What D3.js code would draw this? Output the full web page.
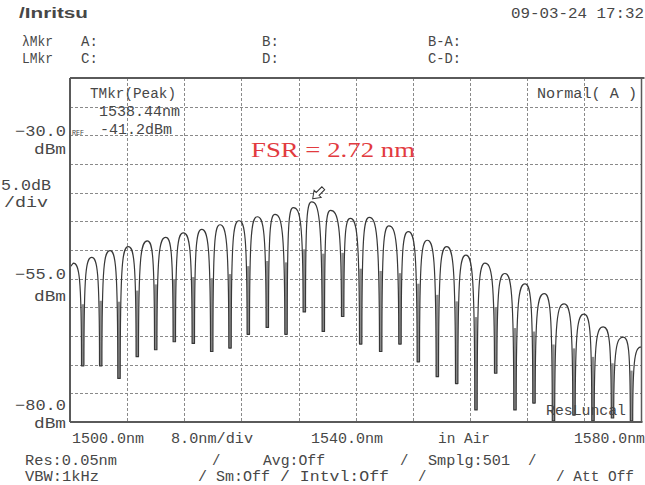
<!DOCTYPE html>
<meta charset="utf-8">
<style>
body { margin: 0; background: #fff; }
#chart text { font-family: "Liberation Mono", "DejaVu Sans Mono", monospace; fill: #474747; }
</style>
<body>
<div id="chart"></div>
<script src="https://cdn.jsdelivr.net/npm/d3@7"></script>
<script>

var width = 645, height = 485;
var plot = {left: 70, right: 641.5, top: 78, bottom: 422};

// span 1500-1580 nm, 8 nm/div ; level -80..-20 dBm, 5 dB/div
var wlDomain = [1500, 1580];
var dbmDomain = [-80, -20];
var wlTicks = d3.range(1500, 1581, 8);
var dbmTicks = d3.range(-80, -19, 5);

// fringe peaks (nm / dBm)
var peakWl = [1500.46, 1503.04, 1505.60, 1508.16, 1510.82, 1513.40, 1515.86, 1518.44,
              1521.00, 1523.66, 1526.22, 1528.70, 1531.26, 1533.83, 1536.47, 1539.24,
              1541.90, 1544.65, 1547.36, 1550.02, 1552.73, 1555.43, 1558.09, 1560.89,
              1563.69, 1566.39, 1569.15, 1571.95, 1574.65, 1577.45];
var peakDbm = [-52.3, -51.3, -50.1, -49.4, -48.4, -47.8, -47.0, -46.4,
               -45.6, -44.9, -44.2, -43.8, -42.6, -41.6, -43.1, -44.5,
               -44.3, -45.8, -46.8, -48.3, -49.4, -50.9, -52.3, -54.1,
               -55.9, -57.6, -59.4, -61.2, -63.4, -65.2];

// fringe minima, one after each peak
var dipWl = [1501.78, 1504.30, 1506.86, 1509.42, 1512.00, 1514.60, 1517.26, 1519.84,
             1522.40, 1524.96, 1527.62, 1530.24, 1532.80, 1535.46, 1538.17, 1540.69,
             1543.49, 1546.19, 1548.76, 1551.42, 1554.13, 1556.83, 1559.59, 1562.29,
             1564.95, 1567.68, 1570.55, 1573.21, 1575.94, 1578.60];
var dipDbm = [-70.2, -70.2, -72.4, -68.6, -67.4, -66.0, -66.3, -67.7,
              -67.1, -64.7, -63.5, -64.7, -60.8, -64.2, -61.6, -66.4,
              -67.7, -66.4, -69.5, -72.1, -73.3, -77.9, -71.5, -77.9,
              -76.7, -79.8, -78.8, -79.8, -79.3, -79.8];

// where the trace enters and leaves the screen
var traceStart = [1500.0, -53.0];
var traceEnd = [1580.0, -66.9];

var markerIndex = 13;   // TMkr(Peak)

var x = d3.scaleLinear().domain(wlDomain).range([plot.left, plot.right]);
var y = d3.scaleLinear().domain(dbmDomain).range([plot.bottom, plot.top]);

var svg = d3.select('#chart').append('svg')
    .attr('width', width)
    .attr('height', height);

svg.append('rect').attr('width', width).attr('height', height).attr('fill', '#fff');

svg.append('clipPath').attr('id', 'plotclip')
  .append('rect')
    .attr('x', plot.left).attr('y', plot.top)
    .attr('width', plot.right - plot.left).attr('height', plot.bottom - plot.top);

// grid
var grid = svg.append('g').attr('stroke', '#8a8a8a').attr('stroke-width', 1)
    .attr('stroke-dasharray', '3,2');

grid.selectAll('.vx').data(wlTicks.slice(1, -1)).enter().append('line')
    .attr('x1', function(d){ return Math.round(x(d)) + 0.5; })
    .attr('x2', function(d){ return Math.round(x(d)) + 0.5; })
    .attr('y1', plot.top).attr('y2', plot.bottom);

grid.selectAll('.hy').data(dbmTicks.slice(1, -1)).enter().append('line')
    .attr('y1', function(d){ return Math.round(y(d)) + 0.5; })
    .attr('y2', function(d){ return Math.round(y(d)) + 0.5; })
    .attr('x1', plot.left).attr('x2', plot.right);

// trace: arch from each peak down to the narrow dip and up again
function tracePath() {
  var p = d3.path();
  p.moveTo(x(traceStart[0]), y(traceStart[1]));
  p.lineTo(x(peakWl[0]), y(peakDbm[0]));
  for (var i = 0; i < peakWl.length; i++) {
    var xp = x(peakWl[i]), yp = y(peakDbm[i]);
    var xd = x(dipWl[i]), yd = y(dipDbm[i]);
    var h = xd - xp;
    p.bezierCurveTo(xp + 0.6 * h, yp, xd - 1.2, yp + 0.1 * (yd - yp), xd - 1.2, yd);
    p.lineTo(xd + 1.2, yd);
    var nx, ny;
    if (i + 1 < peakWl.length) { nx = x(peakWl[i + 1]); ny = y(peakDbm[i + 1]); }
    else { nx = x(traceEnd[0]); ny = y(traceEnd[1]); }
    var h2 = nx - xd;
    p.bezierCurveTo(xd + 1.2, ny + 0.1 * (yd - ny), nx - 0.6 * h2, ny, nx, ny);
  }
  return p.toString();
}

var traceG = svg.append('g').attr('clip-path', 'url(#plotclip)');

// grey body of the narrow dips
traceG.selectAll('.dipbar').data(d3.range(dipWl.length)).enter().append('rect')
    .attr('x', function(i){ return x(dipWl[i]) - 1.2; })
    .attr('width', 2.4)
    .attr('y', function(i){ return y(peakDbm[i]) + 0.4 * (y(dipDbm[i]) - y(peakDbm[i])); })
    .attr('height', function(i){ return 0.6 * (y(dipDbm[i]) - y(peakDbm[i])); })
    .attr('fill', '#8d8d8d');

traceG.append('path')
    .attr('d', tracePath())
    .attr('fill', 'none')
    .attr('stroke', '#383838')
    .attr('stroke-width', 1.2)
    .attr('stroke-linejoin', 'round');

// frame
var frame = svg.append('g').attr('stroke', '#5a5a5a').attr('fill', 'none');
frame.append('line').attr('x1', plot.left).attr('x2', plot.right + 3)
    .attr('y1', plot.top).attr('y2', plot.top).attr('stroke-width', 2);
frame.append('line').attr('x1', plot.left).attr('x2', plot.right + 1)
    .attr('y1', plot.bottom).attr('y2', plot.bottom).attr('stroke-width', 2);
frame.append('line').attr('x1', plot.left).attr('x2', plot.left)
    .attr('y1', plot.top).attr('y2', plot.bottom).attr('stroke-width', 2);
frame.append('line').attr('x1', plot.right).attr('x2', plot.right)
    .attr('y1', plot.top).attr('y2', plot.bottom).attr('stroke-width', 1.5);

// peak marker arrow
var mx = x(peakWl[markerIndex]), my = y(peakDbm[markerIndex]);
svg.append('path')
    .attr('d', 'M0,0 L-7,-5 L-7,-2 L-15,-2 L-15,2 L-7,2 L-7,5 Z')
    .attr('transform', 'translate(' + (mx + 1) + ',' + (my - 3) + ') rotate(135)')
    .attr('fill', '#fff')
    .attr('stroke', '#333')
    .attr('stroke-width', 1);

// texts
function txt(x0, y0, s, o) {
  o = o || {};
  var t = svg.append('text')
      .attr('x', x0).attr('y', y0)
      .style('font-size', (o.size || 14) + 'px')
      .text(s);
  if (o.anchor) t.attr('text-anchor', o.anchor);
  if (o.w) t.attr('textLength', o.w).attr('lengthAdjust', 'spacingAndGlyphs');
  if (o.fill) t.style('fill', o.fill);
  if (o.family) t.style('font-family', o.family);
  if (o.weight) t.style('font-weight', o.weight);
  return t;
}

// header
txt(19, 18, '/Inritsu', {size: 14, w: 69, weight: 'bold', family: 'Liberation Sans Narrow, Liberation Sans, sans-serif'});
txt(511, 18, '09-03-24 17:32', {size: 14, w: 133});
txt(22, 46, '\u03bbMkr', {size: 14, w: 31});
txt(81, 46, 'A:', {size: 14});
txt(262, 46, 'B:', {size: 14});
txt(428, 46, 'B-A:', {size: 14, w: 33});
txt(22, 63, 'LMkr', {size: 14, w: 31});
txt(81, 63, 'C:', {size: 14});
txt(262, 63, 'D:', {size: 14});
txt(428, 63, 'C-D:', {size: 14, w: 33});

// level labels
var lv = [[-30, 136, 154], [-55, 279, 301], [-80, 410, 428]];
lv.forEach(function(d){
  txt(66, d[1], d3.format('.1f')(d[0]), {size: 15, anchor: 'end', w: 51});
  txt(66, d[2], 'dBm', {size: 14, anchor: 'end', w: 32});
});
txt(1, 190, '5.0dB', {size: 15, w: 50});
txt(4, 207, '/div', {size: 14, w: 44});

// marker readout
txt(90, 98, 'TMkr(Peak)', {size: 14, w: 86});
txt(99, 116, '1538.44nm', {size: 14, w: 81});
txt(72, 135, 'REF', {size: 7, w: 12});
txt(100, 134, '-41.2dBm', {size: 14, w: 72});
txt(537, 98, 'Normal( A )', {size: 14, w: 100});
txt(546, 415, 'ResLuncal', {size: 14, w: 80});

txt(251, 157, 'FSR = 2.72 nm', {size: 21, w: 164, fill: '#e23b3f', family: 'Liberation Serif, serif'});

// wavelength labels
txt(72, 443, '1500.0nm', {size: 15, w: 72});
txt(171, 443, '8.0nm/div', {size: 15, w: 82});
txt(311, 443, '1540.0nm', {size: 15, w: 72});
txt(438, 443, 'in Air', {size: 15, w: 52});
txt(574, 443, '1580.0nm', {size: 15, w: 71});

// settings
txt(25, 465, 'Res:0.05nm', {size: 14, w: 92});
txt(212, 465, '/', {size: 14});
txt(263, 465, 'Avg:Off', {size: 14, w: 62});
txt(400, 465, '/', {size: 14});
txt(428, 465, 'Smplg:501', {size: 14, w: 82});
txt(528, 465, '/', {size: 14});
txt(25, 481, 'VBW:1kHz', {size: 14, w: 74});
txt(198, 481, '/ Sm:Off', {size: 14, w: 72});
txt(280, 481, '/ Intvl:Off', {size: 14, w: 109});
txt(418, 481, '/', {size: 14});
txt(556, 481, '/ Att Off', {size: 14, w: 78});

</script>
